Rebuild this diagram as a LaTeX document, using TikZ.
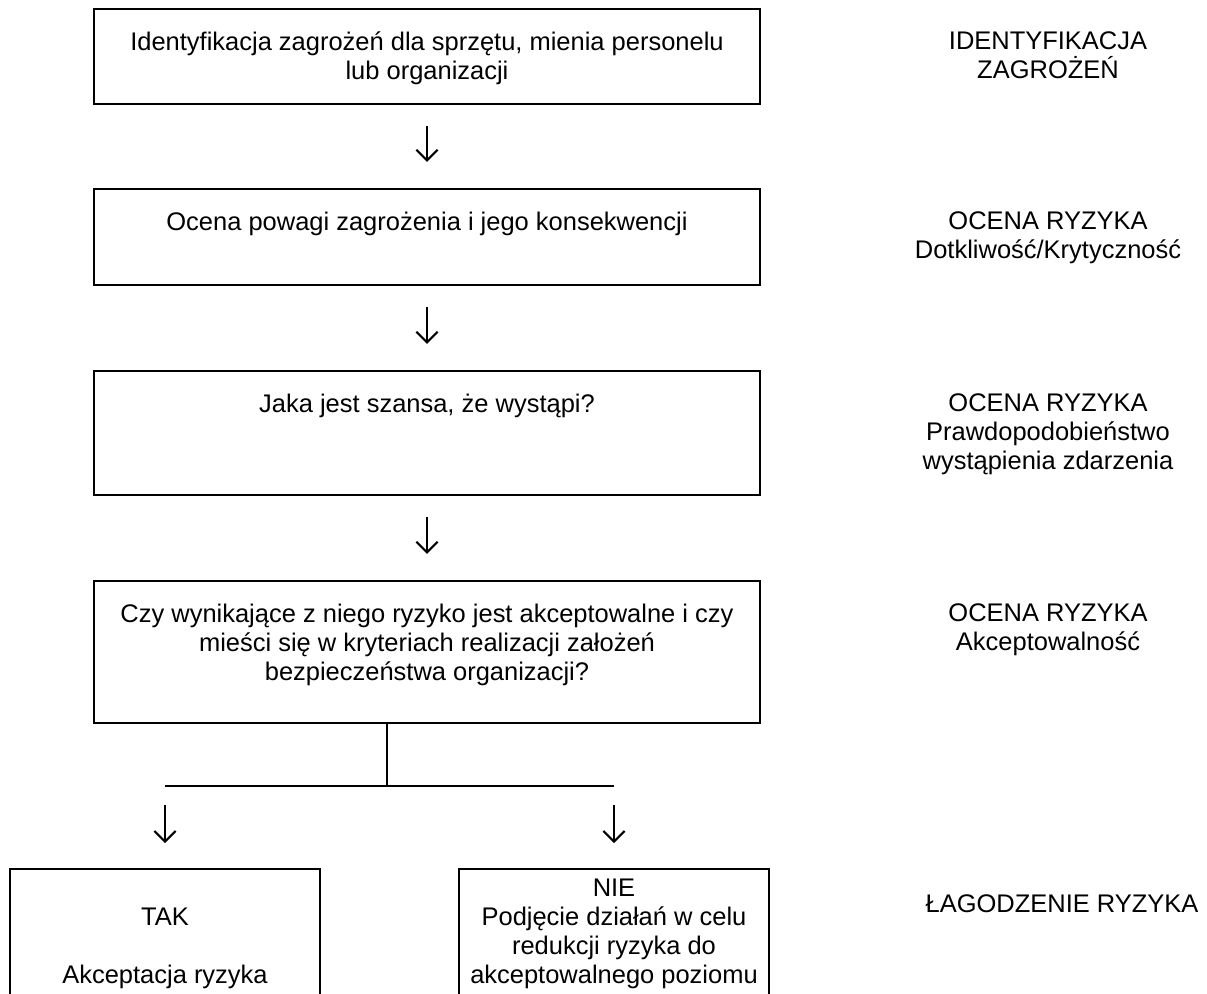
\documentclass[tikz,border=0pt]{standalone}
\usepackage{fontspec}
\setmainfont{Liberation Sans}
\usetikzlibrary{arrows.meta}
\usetikzlibrary{positioning}

\tikzset{
    stepbox/.style={draw, line width=1.4pt, minimum width=13.32cm, inner sep=0pt},
    endbox/.style={draw, line width=1.4pt, minimum width=6.2cm, minimum height=4cm, inner sep=0pt, anchor=north},
    boxtext/.style={align=center, inner sep=0pt, anchor=north, font=\fontsize{14.5}{16.5}\selectfont},
    sidetext/.style={boxtext},
    downarrow/.style={-{Straight Barb[length=6pt, width=12pt, line width=1.2pt]}, line width=1.2pt},
    splitline/.style={line width=1.1pt}
}

\begin{document}
\begin{tikzpicture}[x=0.02cm, y=-0.02cm]
        \useasboundingbox (0,0) rectangle (1207,994);
        \clip (0,0) rectangle (1207,994);
        \coordinate (sidecol) at (1048,0);
        \coordinate (mitigcol) at (1062,0);
        % main column
        \node [stepbox, minimum height=1.9cm] (ident) at (427,56.5) {};
        \node [stepbox, minimum height=1.92cm] (severity) at (427,237) {};
        \node [stepbox, minimum height=2.48cm] (chance) at (427,433) {};
        \node [stepbox, minimum height=2.84cm] (accept) at (427,652) {};
        \node [boxtext, below=0.48cm of ident.north] (identtxt) {Identyfikacja zagrożeń dla sprzętu, mienia personelu\\lub organizacji};
        \node [boxtext, below=0.48cm of severity.north] (severitytxt) {Ocena powagi zagrożenia i jego konsekwencji};
        \node [boxtext, below=0.48cm of chance.north] (chancetxt) {Jaka jest szansa, że wystąpi?};
        \node [boxtext, below=0.48cm of accept.north] (accepttxt) {Czy wynikające z niego ryzyko jest akceptowalne i czy\\mieści się w kryteriach realizacji założeń\\bezpieczeństwa organizacji?};
        \draw [downarrow, shorten <=0.42cm, shorten >=0.52cm] (ident) -- (severity);
        \draw [downarrow, shorten <=0.42cm, shorten >=0.52cm] (severity) -- (chance);
        \draw [downarrow, shorten <=0.42cm, shorten >=0.52cm] (chance) -- (accept);
        % split into two outcomes
        \node [endbox] (yes) at (165,868) {};
        \node [endbox] (no) at (614,868) {};
        \coordinate (split) at (387,786);
        \draw [splitline] (accept.south -| split) -- (split);
        \draw [splitline] (yes.north |- split) -- (no.north |- split);
        \draw [downarrow, shorten <=0.38cm, shorten >=0.5cm] (yes.north |- split) -- (yes.north);
        \draw [downarrow, shorten <=0.38cm, shorten >=0.5cm] (no.north |- split) -- (no.north);
        \node [boxtext, below=0.8cm of yes.north] (yestxt) {TAK\\[16.5pt]Akceptacja ryzyka};
        \node [boxtext, below=0.22cm of no.north] (notxt) {NIE\\Podjęcie działań w celu\\redukcji ryzyka do\\akceptowalnego poziomu};
        % side column
        \node [sidetext] (identside) at (identtxt.north -| sidecol) {IDENTYFIKACJA\\ZAGROŻEŃ};
        \node [sidetext] (severityside) at (severitytxt.north -| sidecol) {OCENA RYZYKA\\Dotkliwość/Krytyczność};
        \node [sidetext] (chanceside) at (chancetxt.north -| sidecol) {OCENA RYZYKA\\Prawdopodobieństwo\\wystąpienia zdarzenia};
        \node [sidetext] (acceptside) at (accepttxt.north -| sidecol) {OCENA RYZYKA\\Akceptowalność};
        \node [sidetext, yshift=-0.3cm] (mitigside) at (notxt.north -| mitigcol) {ŁAGODZENIE RYZYKA};
    \end{tikzpicture}
\end{document}
